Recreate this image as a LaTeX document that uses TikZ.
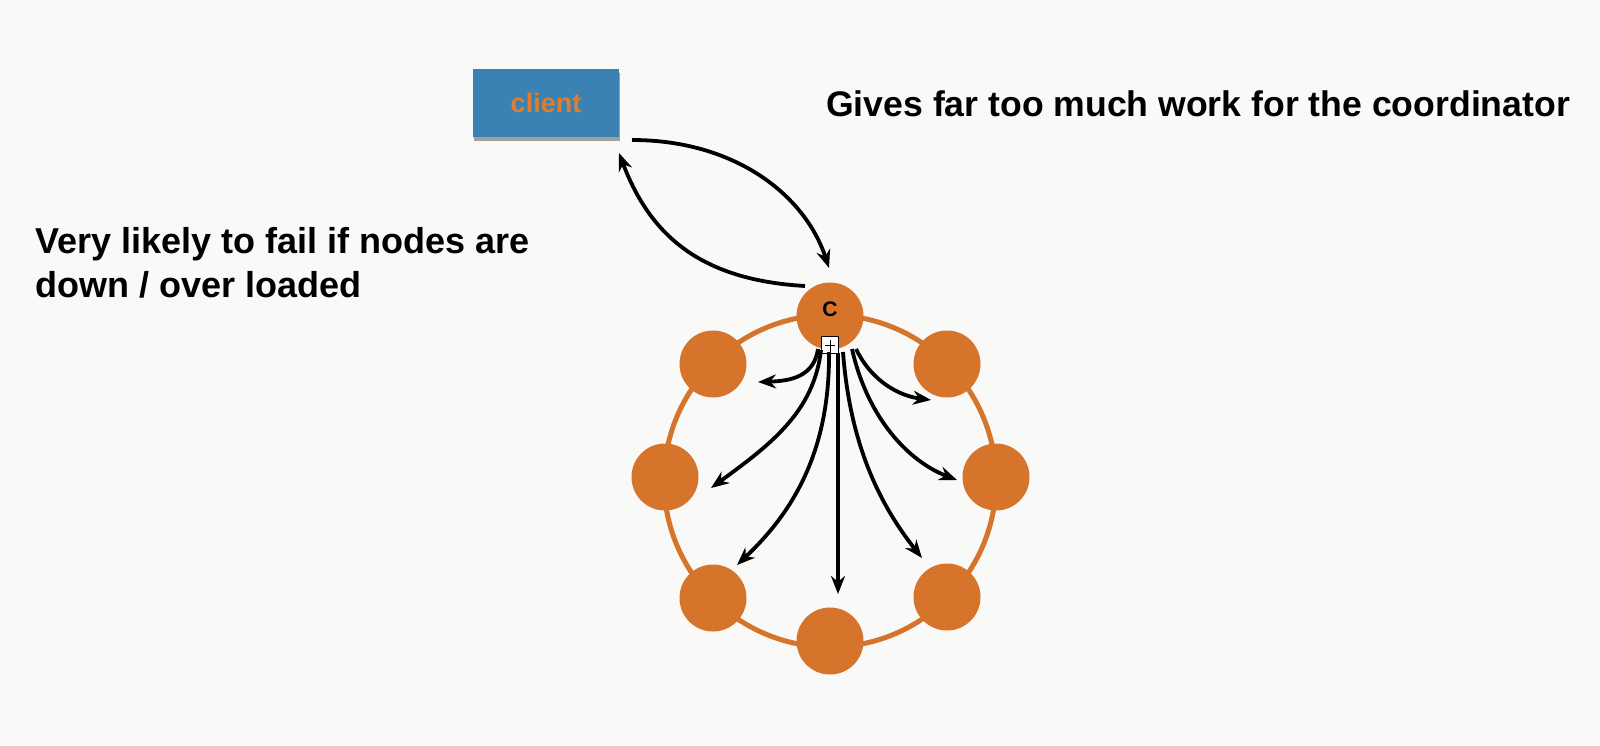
\documentclass[tikz,border=0pt]{standalone}
\usepackage{fontspec}
\setmainfont{Liberation Sans}
\usetikzlibrary{arrows.meta,shadows}
\definecolor{bgc}{RGB}{249,249,247}
\definecolor{ringorange}{RGB}{213,116,42}
\definecolor{clientblue}{RGB}{58,130,180}
\definecolor{clienttext}{RGB}{226,124,46}
\tikzset{
  ringnode/.style={circle,fill=ringorange,draw=none,minimum size=67pt,inner sep=0pt},
  msg/.style={line width=3.8pt,-{Stealth[length=18pt,width=14pt]}},
  caption/.style={font=\bfseries\fontsize{36}{44}\selectfont,inner sep=0pt,anchor=base west},
  clientbox/.style={rectangle,fill=clientblue,draw=none,minimum width=146pt,minimum height=68pt,
     inner sep=0pt,font=\bfseries\fontsize{27}{30}\selectfont,text=clienttext,
     drop shadow={shadow xshift=1pt,shadow yshift=-4pt,opacity=0.45,fill=black!80}},
  markbox/.style={rectangle,fill=white,draw=black,line width=1pt,minimum width=17pt,minimum height=17pt,inner sep=0pt}
}
\begin{document}
\begin{tikzpicture}[x=1pt,y=-1pt]
\fill[bgc] (0,0) rectangle (1600,746);
\useasboundingbox (0,0) rectangle (1600,746);
% ring
\coordinate (ringc) at (830,481);
\draw[ringorange,line width=5pt] (ringc) circle[radius=166];
% nodes on ring
\node[ringnode] (c)  at (830,316) {};
\node[ringnode] (tr) at (947,364) {};
\node[ringnode] (r)  at (996,477) {};
\node[ringnode] (br) at (947,597) {};
\node[ringnode] (b)  at (830,641) {};
\node[ringnode] (bl) at (713,598) {};
\node[ringnode] (l)  at (665,477) {};
\node[ringnode] (tl) at (713,364) {};
\node[font=\bfseries\fontsize{21}{23}\selectfont,inner sep=0pt] (clabel) at (830,309) {C};
% small marker box
\node[markbox] (mk) at (830,345) {};
\draw[line width=1pt] ([xshift=-5pt]mk.center) -- ([xshift=5pt]mk.center);
\draw[line width=1pt] ([yshift=5pt]mk.center) -- (mk.south);
% client
\node[clientbox] (client) at (546,103) {client};
% captions
\node[caption,font=\bfseries\fontsize{35.6}{44}\selectfont] (gives) at (826,117) {Gives far too much work for the coordinator};
\node[caption] (fail1) at (35,253) {Very likely to fail if nodes are};
\node[caption] (fail2) at (35,297) {down / over loaded};
% client <-> coordinator
\coordinate (cs1) at (632,140);
\coordinate (ce1) at (829,268);
\coordinate (cs2) at (805,286);
\coordinate (ce2) at (619,153);
\draw[msg] (cs1) .. controls (735,140) and (805,195) .. (ce1);
\draw[msg] (cs2) .. controls (700,280) and (650,235) .. (ce2);
% fan-out from coordinator
\coordinate (s1) at (818,349);
\coordinate (s2) at (821,350);
\coordinate (s3) at (829,352);
\coordinate (s4) at (838,353);
\coordinate (s5) at (843,352);
\coordinate (s6) at (852,349);
\coordinate (s7) at (856,349);
\coordinate (e1) at (758,382);
\coordinate (e2) at (711,488);
\coordinate (e3) at (737,565);
\coordinate (e4) at (838,594);
\coordinate (e5) at (922,558);
\coordinate (e6) at (957,480);
\coordinate (e7) at (931,400);
\draw[msg] (s1) .. controls (814,376) and (792,381) .. (e1);
\draw[msg] (s2) .. controls (814,412) and (770,445) .. (e2);
\draw[msg] (s3) .. controls (830,455) and (790,515) .. (e3);
\draw[msg] (s4) -- (e4);
\draw[msg] (s5) .. controls (850,445) and (880,505) .. (e5);
\draw[msg] (s6) .. controls (868,420) and (910,462) .. (e6);
\draw[msg] (s7) .. controls (872,382) and (900,396) .. (e7);
\end{tikzpicture}
\end{document}
